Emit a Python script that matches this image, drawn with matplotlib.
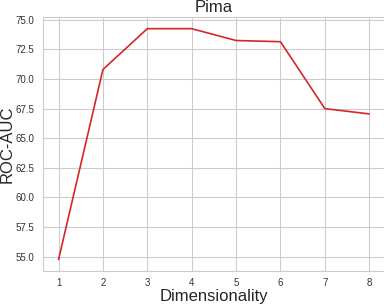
import matplotlib
matplotlib.use("Agg")
import matplotlib.pyplot as plt
import seaborn as sns

# ROC-AUC vs dimensionality, Pima dataset
dims = [1, 2, 3, 4, 5, 6, 7, 8]
roc_auc = [54.75, 70.8, 74.25, 74.25, 73.25, 73.15, 67.5, 67.05]
yticks = [55.0, 57.5, 60.0, 62.5, 65.0, 67.5, 70.0, 72.5, 75.0]

sns.set_style("whitegrid")
plt.rcParams['font.family'] = ['Liberation Sans', 'DejaVu Sans']

fig = plt.figure(figsize=(3.84, 3.06), dpi=100)
ax = fig.add_axes([0.112, 0.114, 0.89, 0.83])
ax.plot(dims, roc_auc, color='#d62728', linewidth=1.2)
ax.set_xticks(dims)
ax.set_yticks(yticks)
ax.set_yticklabels(["%.1f" % t for t in yticks])
ax.tick_params(labelsize=7, colors='#333333', length=0)
ax.tick_params(axis='x', pad=5)
ax.tick_params(axis='y', pad=6)
ax.set_title("Pima", fontsize=12, pad=4)
ax.set_xlabel("Dimensionality", fontsize=12, labelpad=1)
ax.set_ylabel("ROC-AUC", fontsize=12, labelpad=1)
for s in ax.spines.values():
    s.set_color('#cccccc')

fig.savefig("out.png", dpi=100)
